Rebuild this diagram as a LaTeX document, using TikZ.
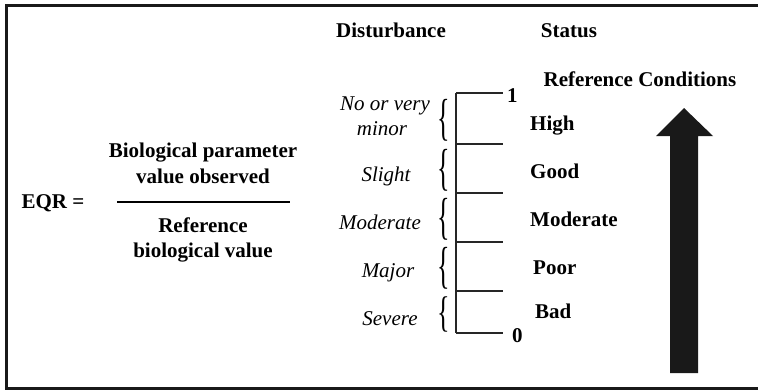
\documentclass[tikz,border=0pt]{standalone}
\usepackage{fontspec}
\setmainfont{Liberation Serif}
\usetikzlibrary{positioning}
\usetikzlibrary{calc}

\begin{document}
\begin{tikzpicture}[x=1pt, y=-1pt,
  every node/.style={inner sep=0pt, font=\fontsize{21}{25}\selectfont},
  head/.style={font=\fontsize{21}{25}\selectfont\bfseries, anchor=base},
  dist/.style={font=\fontsize{21}{25}\selectfont\itshape, anchor=base},
  stat/.style={font=\fontsize{21}{25}\selectfont\bfseries, anchor=base west},
  tickline/.style={line width=1.2pt, black!85},
  curly/.style={font=\fontsize{26}{30}\selectfont, anchor=center}]

  \useasboundingbox (0,0) rectangle (758,391);

  % frame, open on the right
  \draw[line width=3pt, black!90] (758,5) -- (6,5) -- (6,388) -- (758,388);

  % the ratio
  \node[head] (eqr) at (53,208) {EQR =};
  \node[head] (num1) at (203,157) {Biological parameter};
  \node[head] (num2) at (203,183) {value observed};
  \node[head] (den1) at (203,232) {Reference};
  \node[head] (den2) at (203,257) {biological value};
  \coordinate (fl) at (117,202);
  \coordinate (fr) at (290,202);
  \draw[line width=2pt] (fl) -- (fr);

  % column heads
  \node[head] (distur) at (391,37) {Disturbance};
  \node[head] (status) at (569,37) {Status};
  \node[head] (refcond) at (640,86) {Reference Conditions};

  % the scale from 1 down to 0
  \foreach \y [count=\i from 0] in {93,144,193,242,291,333} {
    \coordinate (t\i) at (456,\y);
    \draw[tickline] (t\i) -- ++(47,0);
  }
  \draw[tickline] (t0) -- (t5);
  \node[head, anchor=base west] (one) at (507,102) {1};
  \node[head, anchor=base west] (zero) at (512,342) {0};

  % braces next to each class
  \foreach \a/\b/\s in {0/1/1.95,1/2/1.95,2/3/1.95,3/4/1.95,4/5/1.65}
    \node[curly] (br\a) at ($(t\a)!0.5!(t\b)+(-12,2)$)
      {\scalebox{1}[\s]{\{}};

  \node[dist] (d1a) at (385,110) {No or very};
  \node[dist] (d1b) at (382,135) {minor};
  \node[dist] (d2) at (386,181) {Slight};
  \node[dist] (d3) at (380,229) {Moderate};
  \node[dist] (d4) at (388,277) {Major};
  \node[dist] (d5) at (390,325) {Severe};

  \node[stat] (s1) at (530,130) {High};
  \node[stat] (s2) at (530,178) {Good};
  \node[stat] (s3) at (530,226) {Moderate};
  \node[stat] (s4) at (533,274) {Poor};
  \node[stat] (s5) at (535,318) {Bad};

  % big arrow
  \fill[black!90] (670,373) -- (670,136) -- (656,136) -- (684,108)
    -- (713,136) -- (698,136) -- (698,373) -- cycle;

\end{tikzpicture}
\end{document}
